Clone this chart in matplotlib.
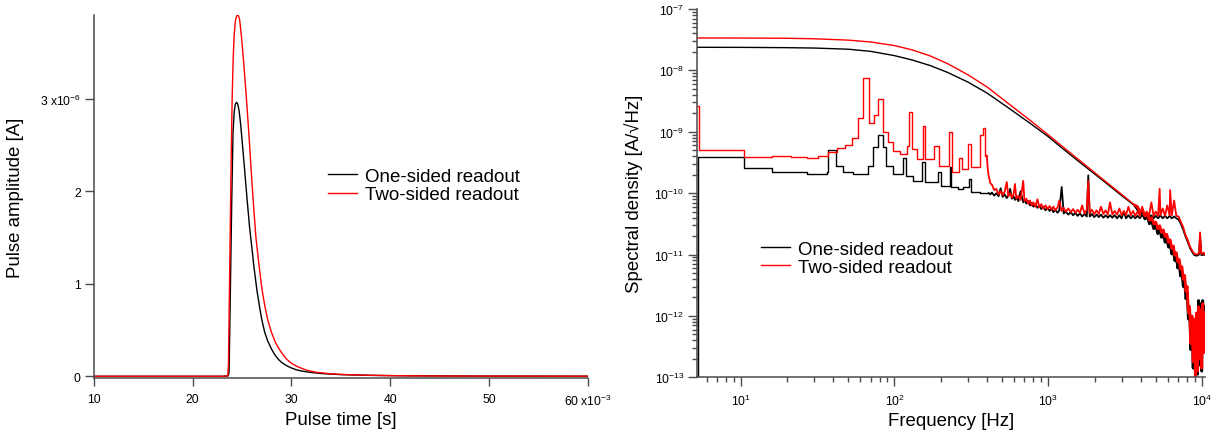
import numpy as np
import matplotlib
matplotlib.use("Agg")
import matplotlib.pyplot as plt
from matplotlib.ticker import LogLocator, NullFormatter

plt.rcParams['font.family'] = ['Liberation Sans', 'DejaVu Sans']
plt.rcParams['mathtext.fontset'] = 'custom'
plt.rcParams['mathtext.rm'] = 'Liberation Sans'
plt.rcParams['mathtext.it'] = 'Liberation Sans:italic'
plt.rcParams['mathtext.bf'] = 'Liberation Sans:bold'

## Data ##
# pulse shapes: time in ms, amplitude in uA
t_one_ms = [10, 20, 23.0, 23.6, 23.68, 23.75, 23.85, 23.95, 24.08, 24.2, 24.3, 24.43, 24.55,
            24.7, 24.85, 25.0, 25.25, 25.5, 25.75, 26.0, 26.18, 26.5, 26.8, 27.0, 27.29, 27.6,
            28.0, 28.3, 28.64, 29.0, 29.5, 30.0, 30.5, 31.0, 31.85, 33, 35, 38, 42, 50, 60]
amp_one = [0, 0, 0, 0.005, 0.05, 0.5, 1.2, 1.9, 2.64, 2.86, 2.94, 2.965, 2.95,
           2.87, 2.73, 2.55, 2.24, 1.92, 1.62, 1.38, 1.2, 0.93, 0.73, 0.61, 0.476, 0.38,
           0.29, 0.235, 0.187, 0.15, 0.115, 0.09, 0.07, 0.058, 0.043, 0.03, 0.018, 0.01, 0.005, 0.002, 0.001]

t_two_ms = [10, 20, 23.0, 23.55, 23.62, 23.7, 23.8, 23.9, 24.0, 24.1, 24.2, 24.32, 24.45, 24.59,
            24.75, 24.95, 25.2, 25.44, 25.7, 25.9, 26.11, 26.4, 26.72, 27.0, 27.3, 27.6, 27.97,
            28.4, 28.9, 29.49, 30.0, 30.7, 31.5, 32.5, 34, 36, 40, 45, 50, 60]
amp_two = [0, 0, 0, 0.005, 0.15, 0.8, 1.6, 2.4, 3.05, 3.45, 3.7, 3.85, 3.9, 3.913,
           3.86, 3.66, 3.34, 3.0, 2.6, 2.26, 1.92, 1.5, 1.197, 0.95, 0.76, 0.61, 0.476,
           0.36, 0.27, 0.187, 0.14, 0.10, 0.068, 0.043, 0.027, 0.016, 0.007, 0.003, 0.002, 0.001]

# signal spectra (Hz, log10 A/sqrt(Hz))
sig_f = [5.22, 10, 20, 30, 50, 70, 100, 130, 170, 220, 300, 400, 550, 750, 1000, 1222, 1500,
         2228, 3000, 3673, 3800, 3950, 4100, 4250, 4400, 4550, 4700, 4850, 5000, 5150, 5300,
         5450, 5600, 5750, 5900, 6050, 6200, 6350, 6500, 6650, 6800, 6950, 7100, 7250, 7400,
         7550, 7700, 7850, 8000, 8150, 8300, 8450, 8600, 8750, 8900, 9050, 9200, 9350, 9500,
         9650, 9800, 9950, 10100, 10250, 10400]
sig_two_log = [-7.472, -7.473, -7.477, -7.485, -7.507, -7.537, -7.596, -7.665, -7.763, -7.887,
               -8.071, -8.27, -8.54, -8.80, -9.05, -9.23, -9.41, -9.76, -10.02, -10.2,
               -10.22, -10.30, -10.27, -10.37, -10.34, -10.44, -10.40, -10.50, -10.47, -10.58,
               -10.53, -10.64, -10.60, -10.71, -10.67, -10.80, -10.76, -10.90, -10.86, -11.01,
               -10.97, -11.12, -11.08, -11.24, -11.20, -11.40, -11.34, -11.60, -11.52, -11.95,
               -11.85, -12.45, -12.0, -12.75, -12.05, -12.98, -11.95, -12.9, -11.85, -12.7,
               -11.9, -12.85, -11.8, -12.6, -11.95]
sig_one_log = [-7.624, -7.625, -7.63, -7.636, -7.655, -7.69, -7.76, -7.83, -7.92, -8.03,
               -8.19, -8.37, -8.61, -8.85, -9.08, -9.26, -9.44, -9.78, -10.04, -10.21,
               -10.26, -10.33, -10.31, -10.42, -10.38, -10.50, -10.45, -10.58, -10.52, -10.66,
               -10.58, -10.72, -10.66, -10.80, -10.73, -10.88, -10.82, -10.99, -10.92, -11.10,
               -11.04, -11.22, -11.15, -11.35, -11.28, -11.52, -11.42, -11.72, -11.62, -12.05,
               -11.9, -12.55, -12.05, -12.85, -12.1, -12.98, -12.0, -12.95, -11.75, -12.8,
               -11.8, -12.9, -11.75, -12.5, -11.85]

# noise spectra, log-binned low-frequency part (Hz, log10 value)
noise_one_bins = [(5.22, -14), (5.27, -9.416), (10.56, -9.595), (15.9, -9.66), (26.8, -9.687),
                  (36.2, -9.66), (37.2, -9.291), (41.4, -9.552), (46.2, -9.66), (53.6, -9.687),
                  (67.1, -9.562), (72.3, -9.253), (77.9, -9.052), (83.8, -9.253), (88.5, -9.552),
                  (98.3, -9.687), (114.2, -9.432), (118.9, -9.714), (132.5, -9.796), (150.2, -9.497),
                  (157.3, -9.823), (192.2, -9.66), (201.8, -9.877), (229, -9.579), (234.6, -9.904),
                  (260, -9.93), (280, -9.9), (305.5, -9.769), (316, -9.986), (360, -9.99), (410, -10.0)]
noise_two_bins = [(5.22, -8.575), (5.32, -9.291), (10.56, -9.416), (15.9, -9.389), (21.1, -9.416),
                  (26.8, -9.432), (32.0, -9.389), (37.2, -9.334), (42.1, -9.269), (47.7, -9.215),
                  (52.7, -9.106), (58.2, -8.781), (62.7, -8.124), (68.6, -8.862), (73.6, -8.726),
                  (78.5, -8.466), (83.8, -8.998), (91.2, -9.172), (98.3, -9.307), (108.6, -9.362),
                  (120, -9.237), (123.6, -8.683), (130, -9.28), (139.4, -9.443), (152.5, -8.911),
                  (158.6, -9.443), (180.6, -9.237), (193.6, -9.552), (227, -8.998), (236.6, -9.66),
                  (261, -9.432), (273.4, -9.606), (302, -9.199), (312.6, -9.579), (359.5, -9.052),
                  (377.8, -8.943), (389, -9.389), (398, -9.389)]

# noise spectra, finely resolved high-frequency part
noise_one_fine = [(410, -10.0), (420, -10.02), (430, -9.99), (445, -10.04), (460, -10.0), (475, -10.05),
                  (490, -9.92), (505, -10.06), (520, -10.02), (537, -10.08), (550, -10.04), (565, -9.93),
                  (580, -10.09), (595, -10.05), (607, -10.11), (620, -10.07), (640, -10.13), (660, -9.97),
                  (687, -10.15), (700, -10.11), (720, -10.17), (740, -10.13), (760, -10.2), (780, -10.16),
                  (800, -10.22), (825, -10.18), (850, -10.24), (875, -10.2), (900, -10.26), (930, -10.22),
                  (960, -10.28), (990, -10.24), (1020, -10.29), (1050, -10.25), (1080, -10.31), (1110, -10.27),
                  (1150, -10.32), (1180, -10.28), (1222, -9.90), (1260, -10.33), (1300, -10.3), (1350, -10.35),
                  (1400, -10.31), (1450, -10.36), (1500, -10.32), (1550, -10.37), (1607, -10.33), (1660, -10.38),
                  (1720, -10.34), (1780, -10.38), (1820, -9.71), (1860, -10.38), (1920, -10.34), (1990, -10.39),
                  (2060, -10.35), (2130, -10.39), (2200, -10.35), (2280, -10.4), (2360, -10.36), (2440, -10.4),
                  (2520, -10.36), (2610, -10.4), (2700, -10.36), (2800, -10.41), (2900, -10.36), (3000, -10.41),
                  (3100, -10.3), (3200, -10.41), (3320, -10.36), (3440, -10.41), (3560, -10.37), (3680, -10.41),
                  (3800, -10.37), (3940, -10.41), (4080, -10.35), (4220, -10.41), (4370, -10.37), (4520, -10.41),
                  (4680, -10.36), (4840, -10.41), (5000, -10.37), (5180, -10.41), (5360, -10.36), (5550, -10.41),
                  (5740, -10.37), (5940, -10.41), (6150, -10.37), (6360, -10.41), (6580, -10.38), (6800, -10.41),
                  (7040, -10.43), (7280, -10.5), (7530, -10.59), (7790, -10.7), (8060, -10.79), (8340, -10.89),
                  (8630, -10.96), (8930, -11.01), (9240, -11.02), (9560, -11.0), (9700, -10.7), (9890, -11.01),
                  (10230, -11.0), (10450, -11.01)]
noise_two_fine = [(398, -9.389), (404, -9.6), (410, -9.72), (420, -9.84), (430, -9.86), (445, -9.95),
                  (460, -9.93), (475, -10.02), (490, -9.97), (505, -10.03), (520, -9.98), (537, -9.82),
                  (550, -10.05), (565, -10.0), (580, -10.07), (595, -10.02), (607, -9.85), (620, -10.09),
                  (640, -10.04), (660, -10.11), (687, -9.80), (700, -10.13), (720, -10.09), (740, -10.17),
                  (760, -10.12), (780, -10.2), (800, -10.15), (825, -10.22), (850, -10.1), (875, -10.23),
                  (900, -10.18), (930, -10.25), (960, -10.2), (990, -10.26), (1020, -10.21), (1050, -10.27),
                  (1080, -10.22), (1110, -10.28), (1150, -10.23), (1180, -10.12), (1220, -10.29), (1260, -10.24),
                  (1300, -10.3), (1350, -10.25), (1400, -10.31), (1450, -10.26), (1500, -10.32), (1550, -10.27),
                  (1607, -10.32), (1660, -10.2), (1720, -10.33), (1780, -10.27), (1820, -9.80), (1860, -10.33),
                  (1920, -10.27), (1990, -10.34), (2060, -10.28), (2130, -10.34), (2200, -10.22), (2280, -10.34),
                  (2360, -10.28), (2440, -10.35), (2520, -10.15), (2610, -10.35), (2700, -10.29), (2800, -10.35),
                  (2900, -10.25), (3000, -10.36), (3100, -10.29), (3200, -10.36), (3320, -10.22), (3440, -10.36),
                  (3560, -10.29), (3680, -10.37), (3800, -10.3), (3940, -10.37), (4080, -10.22), (4220, -10.37),
                  (4370, -10.3), (4520, -10.37), (4680, -10.15), (4840, -10.37), (5000, -10.3), (5180, -10.37),
                  (5300, -9.93), (5360, -10.36), (5550, -10.25), (5740, -10.37), (5940, -10.2), (6150, -10.36),
                  (6200, -9.95), (6360, -10.36), (6580, -10.12), (6800, -10.37), (7040, -10.38), (7280, -10.47),
                  (7530, -10.55), (7790, -10.68), (8060, -10.76), (8340, -10.87), (8630, -10.94), (8930, -10.99),
                  (9240, -11.0), (9560, -10.98), (9700, -10.64), (9890, -10.99), (10230, -10.97), (10450, -11.0)]

labels = ["One-sided readout", "Two-sided readout"]
colors = ["black", "red"]
freq_decades = [1e1, 1e2, 1e3, 1e4]
dens_decades = [1e-13, 1e-12, 1e-11, 1e-10, 1e-9, 1e-8, 1e-7]

## Figure ##
fig = plt.figure(figsize=(12.17, 4.35), dpi=100)
ax1 = fig.add_axes([94 / 1217, 56 / 435, 493.7 / 1217, 363.3 / 435])
ax2 = fig.add_axes([697.3 / 1217, 56.7 / 435, 507.7 / 1217, 368.3 / 435])

spine_col = "#4a4a4a"
for ax in (ax1, ax2):
    for s in ("top", "right"):
        ax.spines[s].set_visible(False)
    for s in ("left", "bottom"):
        ax.spines[s].set_color(spine_col)
        ax.spines[s].set_linewidth(1.1)

# left panel: pulses
ax1.plot(np.array(t_one_ms) * 1e-3, np.array(amp_one) * 1e-6, color=colors[0], lw=1.0, label=labels[0])
ax1.plot(np.array(t_two_ms) * 1e-3, np.array(amp_two) * 1e-6, color=colors[1], lw=1.0, label=labels[1])
ax1.set_xlim(0.010, 0.060)
ax1.set_ylim(-0.0184e-6, 3.913e-6)
ax1.set_xticks([0.01, 0.02, 0.03, 0.04, 0.05, 0.06])
ax1.set_xticklabels(["10", "20", "30", "40", "50", r"60 x10$^{-3}$"])
ax1.set_yticks([0, 1e-6, 2e-6, 3e-6])
ax1.set_yticklabels(["0", "1", "2", r"3 x10$^{-6}$"])
ax1.tick_params(axis="x", direction="out", length=5.5, width=1.0, color=spine_col, labelsize=8.7, pad=5)
ax1.tick_params(axis="y", direction="out", length=6.5, width=1.0, color=spine_col, labelsize=8.7, pad=3)
ax1.set_xlabel("Pulse time [s]", fontsize=13.4)
ax1.set_ylabel("Pulse amplitude [A]", fontsize=13.4)
ax1.xaxis.set_label_coords(0.5, -0.092)
ax1.yaxis.set_label_coords(-0.142, 0.5)
ax1.legend(loc="center left", bbox_to_anchor=(328 / 1217, 1 - 186.5 / 435), bbox_transform=fig.transFigure,
           frameon=False, fontsize=13.5, handlelength=1.55, handletextpad=0.43, labelspacing=0.05,
           borderpad=0, borderaxespad=0)

# right panel: spectra
nb1 = np.array(noise_one_bins).T
nb2 = np.array(noise_two_bins).T
nf1 = np.array(noise_one_fine).T
nf2 = np.array(noise_two_fine).T
sf = np.array(sig_f)
s1 = 10 ** np.array(sig_one_log)
s2 = 10 ** np.array(sig_two_log)
smooth = sf <= 3673
noisy = sf >= 3673

ax2.plot(nb1[0], 10 ** nb1[1], color=colors[0], lw=1.0, drawstyle="steps-post", label=labels[0])
ax2.plot(nf1[0], 10 ** nf1[1], color=colors[0], lw=1.3)
ax2.plot(sf[smooth], s1[smooth], color=colors[0], lw=1.0)
ax2.plot(sf[noisy], s1[noisy], color=colors[0], lw=2.0)
ax2.plot(nb2[0], 10 ** nb2[1], color=colors[1], lw=1.0, drawstyle="steps-post", label=labels[1])
ax2.plot(nf2[0], 10 ** nf2[1], color=colors[1], lw=1.3)
ax2.plot(sf[smooth], s2[smooth], color=colors[1], lw=1.0)
ax2.plot(sf[noisy], s2[noisy], color=colors[1], lw=2.0)
ax2.set_xscale("log")
ax2.set_yscale("log")
ax2.set_xticks(freq_decades)
ax2.set_yticks(dens_decades)
ax2.xaxis.set_minor_locator(LogLocator(base=10, subs=np.arange(2, 10), numticks=20))
ax2.yaxis.set_minor_locator(LogLocator(base=10, subs=np.arange(2, 10), numticks=20))
ax2.xaxis.set_minor_formatter(NullFormatter())
ax2.yaxis.set_minor_formatter(NullFormatter())
ax2.set_xlim(5.22, 10450)
ax2.set_ylim(1e-13, 1e-7)
ax2.tick_params(axis="x", which="major", direction="out", length=6.5, width=1.0, color=spine_col, labelsize=8.7, pad=5)
ax2.tick_params(axis="y", which="major", direction="out", length=6.5, width=1.0, color=spine_col, labelsize=8.7, pad=3)
ax2.tick_params(which="minor", direction="out", length=3.5, width=1.0, color=spine_col)
ax2.set_xlabel("Frequency [Hz]", fontsize=13.4)
ax2.set_ylabel("Spectral density [A/\u221aHz]", fontsize=13.4)
ax2.xaxis.set_label_coords(0.5, -0.094)
ax2.yaxis.set_label_coords(-0.107, 0.5)
ax2.legend(loc="center left", bbox_to_anchor=(761 / 1217, 1 - 259 / 435), bbox_transform=fig.transFigure,
           frameon=False, fontsize=13.5, handlelength=1.55, handletextpad=0.43, labelspacing=0.05,
           borderpad=0, borderaxespad=0)

fig.savefig("out.png", dpi=100)
